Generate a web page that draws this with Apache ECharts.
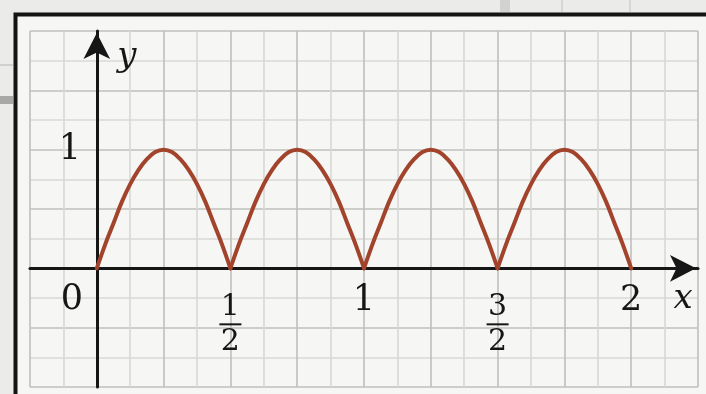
<!DOCTYPE html>
<html>
<head>
<meta charset="utf-8">
<script src="https://cdn.jsdelivr.net/npm/echarts@6/dist/echarts.min.js"></script>
<style>
html,body{margin:0;padding:0;background:#ebebe9;}
#chart{width:706px;height:394px;}
</style>
</head>
<body>
<div id="chart"></div>
<script>
// ---- data ----
const curveX = [
  0, 0.03125, 0.0625, 0.09375, 0.125, 0.15625, 0.1875, 0.21875, 0.25, 0.28125, 0.3125, 0.34375, 0.375, 0.40625, 0.4375, 0.46875,
  0.5, 0.53125, 0.5625, 0.59375, 0.625, 0.65625, 0.6875, 0.71875, 0.75, 0.78125, 0.8125, 0.84375, 0.875, 0.90625, 0.9375, 0.96875,
  1, 1.03125, 1.0625, 1.09375, 1.125, 1.15625, 1.1875, 1.21875, 1.25, 1.28125, 1.3125, 1.34375, 1.375, 1.40625, 1.4375, 1.46875,
  1.5, 1.53125, 1.5625, 1.59375, 1.625, 1.65625, 1.6875, 1.71875, 1.75, 1.78125, 1.8125, 1.84375, 1.875, 1.90625, 1.9375, 1.96875,
  2
];
const curveY = [
  0, 0.2, 0.38, 0.56, 0.71, 0.83, 0.92, 0.98, 1, 0.98, 0.92, 0.83, 0.71, 0.56, 0.38, 0.2,
  0, 0.2, 0.38, 0.56, 0.71, 0.83, 0.92, 0.98, 1, 0.98, 0.92, 0.83, 0.71, 0.56, 0.38, 0.2,
  0, 0.2, 0.38, 0.56, 0.71, 0.83, 0.92, 0.98, 1, 0.98, 0.92, 0.83, 0.71, 0.56, 0.38, 0.2,
  0, 0.2, 0.38, 0.56, 0.71, 0.83, 0.92, 0.98, 1, 0.98, 0.92, 0.83, 0.71, 0.56, 0.38, 0.2,
  0
];
const xTickValues = [0.5, 1, 1.5, 2];
const xTickLabels = ['1/2', '1', '3/2', '2'];
const yTickValues = [1];
const yTickLabels = ['1'];
const originLabel = '0';
const xName = 'x';
const yName = 'y';

// ---- chart ----
const FONT = 'DejaVu Serif';
const INK = '#161616';
const chart = echarts.init(document.getElementById('chart'), null, {renderer: 'canvas'});
const MINOR = '#d8d8d6';
const MAJOR = '#bfbfbd';

// split the curve into arches (break at interior zeros) so each arch is smoothed independently
const arches = [];
let cur = [];
curveX.forEach((x, i) => {
  cur.push([x, curveY[i]]);
  if (curveY[i] === 0 && cur.length > 1) { arches.push(cur); cur = [[x, curveY[i]]]; }
});
if (cur.length > 1) arches.push(cur);

const xLabelData = xTickValues.map((v, i) => {
  const t = xTickLabels[i];
  const isFrac = t.indexOf('/') >= 0;
  return {value: [v, 0], name: t, label: {offset: isFrac ? [0, 57] : [0, 33]}};
});
const yLabelData = yTickValues.map((v, i) => ({value: [0, v], name: yTickLabels[i], label: {offset: [-27, 0]}}));
const originData = [{value: [0, 0], name: originLabel, label: {offset: [-25, 32]}}];
const xNameData = [{value: [2.25, 0], name: xName, label: {offset: [-15, 31], fontStyle: 'italic', fontSize: 34}}];

const labelStyle = {
  show: true,
  position: 'inside',
  color: INK,
  fontFamily: FONT,
  fontSize: 35,
  opacity: 1,
  formatter: p => {
    const t = p.name;
    if (t.indexOf('/') >= 0) {
      const parts = t.split('/');
      return '{num|' + parts[0] + '}\n{bar|}\n{den|' + parts[1] + '}';
    }
    return t;
  },
  rich: {
    num: {fontFamily: FONT, fontSize: 30, lineHeight: 26, color: INK, align: 'center'},
    bar: {width: 22, height: 2, lineHeight: 8, backgroundColor: INK, align: 'center'},
    den: {fontFamily: FONT, fontSize: 30, lineHeight: 28, color: INK, align: 'center'}
  }
};

const option = {
  backgroundColor: '#ebebe9',
  animation: false,
  graphic: [
    {type: 'rect', z: -10, shape: {x: 0, y: 0, width: 706, height: 394}, style: {fill: '#ebebe9'}},
    {type: 'rect', z: -9, shape: {x: 500, y: 0, width: 10, height: 12}, style: {fill: '#d2d2d0'}},
    {type: 'rect', z: -9, shape: {x: 561, y: 0, width: 2, height: 12}, style: {fill: '#d6d6d4'}},
    {type: 'rect', z: -9, shape: {x: 629, y: 0, width: 2, height: 12}, style: {fill: '#d6d6d4'}},
    {type: 'rect', z: -9, shape: {x: 0, y: 64, width: 13, height: 2}, style: {fill: '#d0d0ce'}},
    {type: 'rect', z: -9, shape: {x: 0, y: 96, width: 13, height: 8}, style: {fill: '#a8a8a6'}},
    {type: 'rect', z: -8, shape: {x: 15.5, y: 14.5, width: 700, height: 400}, style: {fill: '#f6f6f4', stroke: '#141414', lineWidth: 4}}
  ],
  grid: {left: 30, right: 8, top: 31, bottom: 7, containLabel: false},
  xAxis: {
    type: 'value',
    min: -0.25, max: 2.25, interval: 0.125,
    axisLine: {onZero: true, lineStyle: {color: INK, width: 3}, symbol: ['none', 'arrow'], symbolSize: [20, 26], symbolOffset: [0, -2]},
    axisTick: {show: false},
    axisLabel: {show: false},
    splitLine: {show: true, lineStyle: {color: [MAJOR, MINOR], width: 1.6}}
  },
  yAxis: {
    type: 'value',
    min: -1, max: 2, interval: 0.25,
    name: yName,
    nameLocation: 'end',
    nameGap: -26,
    nameTextStyle: {fontFamily: FONT, fontStyle: 'italic', fontSize: 34, color: INK, align: 'center', verticalAlign: 'middle', padding: [0, 0, 0, 60]},
    axisLine: {onZero: true, lineStyle: {color: INK, width: 3}, symbol: ['none', 'arrow'], symbolSize: [20, 26], symbolOffset: [0, -2]},
    axisTick: {show: false},
    axisLabel: {show: false},
    splitLine: {show: true, lineStyle: {color: [MAJOR, MINOR], width: 1.6}}
  },
  series: arches.map(a => ({
    type: 'line',
    data: a,
    smooth: 0.4,
    showSymbol: false,
    symbol: 'none',
    lineStyle: {color: '#a2432c', width: 4, cap: 'round', join: 'round'},
    z: 5
  })).concat([{
    type: 'scatter',
    symbolSize: 0,
    itemStyle: {opacity: 1},
    data: xLabelData.concat(yLabelData, originData, xNameData),
    label: labelStyle,
    silent: true,
    z: 6
  }])
};
chart.setOption(option);
</script>
</body>
</html>
